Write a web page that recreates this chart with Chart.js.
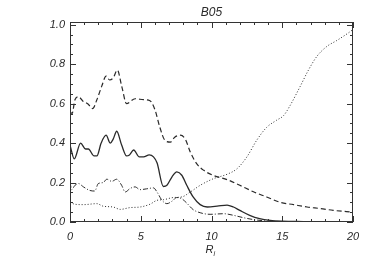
<!DOCTYPE html>
<html>
<head>
<meta charset="utf-8">
<script src="https://cdn.jsdelivr.net/npm/chart.js@4/dist/chart.umd.min.js"></script>
<style>
  html, body { margin: 0; padding: 0; background: #fff; }
  #wrap { width: 374px; height: 267px; position: relative; }
</style>
</head>
<body>
<div id="wrap"><canvas id="chart"></canvas></div>
<script>
const chartTitle = 'B05';
const xTitle = 'R';
const xTitleSub = 'i';

// x positions (R) and values, one pair of arrays per curve
const solidX = [0, 0.3, 0.75, 1.1, 1.3, 1.7, 1.9, 2.2, 2.55, 2.85, 3.05, 3.3, 3.65, 4.0, 4.2, 4.5, 4.9, 5.2, 5.6, 5.9, 6.15, 6.6, 6.85, 7.2, 7.55, 7.9, 8.25, 8.7, 9.2, 9.7, 10.4, 11.1, 11.55, 12.0, 12.7, 13.4, 14.15, 15.0, 16.5, 18.0, 20.0];
const solidY = [0.39, 0.32, 0.40, 0.37, 0.37, 0.335, 0.335, 0.40, 0.44, 0.40, 0.42, 0.46, 0.39, 0.335, 0.34, 0.365, 0.33, 0.33, 0.34, 0.33, 0.30, 0.18, 0.186, 0.228, 0.254, 0.237, 0.186, 0.127, 0.088, 0.076, 0.08, 0.086, 0.076, 0.059, 0.034, 0.017, 0.008, 0.004, 0.002, 0.0, 0.0];

const dashX = [0, 0.15, 0.35, 0.6, 0.95, 1.25, 1.6, 1.9, 2.25, 2.55, 2.8, 3.05, 3.35, 3.65, 4.0, 4.6, 5.2, 5.65, 6.0, 6.35, 6.7, 7.1, 7.4, 7.8, 8.15, 8.5, 8.95, 9.45, 10.1, 11.1, 12.0, 13.0, 13.9, 14.85, 15.8, 16.75, 17.7, 18.6, 20.0];
const dashY = [0.56, 0.55, 0.62, 0.635, 0.61, 0.60, 0.575, 0.62, 0.69, 0.74, 0.72, 0.73, 0.77, 0.69, 0.60, 0.625, 0.62, 0.615, 0.57, 0.48, 0.415, 0.405, 0.43, 0.44, 0.42, 0.355, 0.296, 0.262, 0.237, 0.215, 0.186, 0.152, 0.127, 0.10, 0.088, 0.076, 0.068, 0.059, 0.05];

const dashDotX = [0, 0.12, 0.35, 0.6, 0.95, 1.4, 1.75, 2.0, 2.35, 2.6, 2.95, 3.3, 3.65, 3.9, 4.25, 4.6, 4.95, 5.4, 5.9, 6.15, 6.5, 6.85, 7.2, 7.55, 7.9, 8.25, 8.7, 9.2, 9.9, 10.85, 11.55, 12.25, 13.0, 13.9, 15.1, 17.0, 20.0];
const dashDotY = [0.20, 0.164, 0.186, 0.195, 0.178, 0.16, 0.157, 0.195, 0.20, 0.217, 0.206, 0.217, 0.186, 0.152, 0.17, 0.178, 0.164, 0.168, 0.173, 0.152, 0.11, 0.093, 0.105, 0.124, 0.118, 0.096, 0.063, 0.047, 0.039, 0.042, 0.034, 0.022, 0.012, 0.005, 0.002, 0.0, 0.0];

const dotX = [0, 0.35, 0.95, 1.9, 2.35, 3.05, 3.55, 4.25, 4.95, 5.65, 6.15, 6.6, 7.3, 7.9, 8.5, 9.2, 10.15, 11.1, 11.8, 12.5, 13.2, 13.9, 14.6, 15.1, 15.55, 16.25, 16.85, 17.45, 18.15, 18.85, 19.6, 20.0];
const dotY = [0.10, 0.09, 0.088, 0.093, 0.08, 0.076, 0.064, 0.073, 0.076, 0.09, 0.11, 0.113, 0.124, 0.127, 0.152, 0.186, 0.22, 0.242, 0.27, 0.33, 0.415, 0.48, 0.516, 0.54, 0.59, 0.685, 0.77, 0.84, 0.89, 0.92, 0.955, 0.976];

const xTicks = [0, 5, 10, 15, 20];
const yTicks = [0, 0.2, 0.4, 0.6, 0.8, 1.0];

const ink = '#2a2a2a';
const labelFont = { family: 'Liberation Sans, Arial, sans-serif', size: 11, style: 'italic' };

function pts(xs, ys) {
  return xs.map((x, i) => ({ x: x, y: ys[i] }));
}

function line(data, dash, width) {
  return {
    data: data,
    borderColor: ink,
    borderWidth: width,
    borderDash: dash,
    pointRadius: 0,
    tension: 0.35,
    cubicInterpolationMode: 'monotone',
    fill: false,
  };
}

// IDL style frame: box with inward major/minor ticks on all four sides, plus titles
const framePlugin = {
  id: 'frame',
  afterDraw(chart) {
    const { ctx, chartArea: a, scales } = chart;
    const xs = scales.x, ys = scales.y;
    ctx.save();
    ctx.strokeStyle = '#333';
    ctx.lineWidth = 1;
    ctx.strokeRect(a.left + 0.5, a.top + 0.5, a.right - a.left - 1, a.bottom - a.top - 1);
    ctx.beginPath();
    for (let v = 0; v <= 20.001; v += 1) {
      const px = Math.round(xs.getPixelForValue(v)) + 0.5;
      const len = v % 5 === 0 ? 6 : 3;
      ctx.moveTo(px, a.bottom); ctx.lineTo(px, a.bottom - len);
      ctx.moveTo(px, a.top); ctx.lineTo(px, a.top + len);
    }
    for (let i = 0; i <= 20; i++) {
      const v = i * 0.05;
      const py = Math.round(ys.getPixelForValue(v)) + 0.5;
      const len = i % 4 === 0 ? 6 : 3;
      ctx.moveTo(a.left, py); ctx.lineTo(a.left + len, py);
      ctx.moveTo(a.right, py); ctx.lineTo(a.right - len, py);
    }
    ctx.stroke();

    ctx.fillStyle = ink;
    ctx.textBaseline = 'alphabetic';
    ctx.textAlign = 'center';
    ctx.font = 'italic 12px Liberation Sans, Arial, sans-serif';
    ctx.fillText(chartTitle, (a.left + a.right) / 2, 16);

    ctx.font = 'italic 11px Liberation Sans, Arial, sans-serif';
    const cx = (a.left + a.right) / 2 - 2;
    ctx.textAlign = 'center';
    ctx.fillText(xTitle, cx, 253);
    ctx.font = 'italic 7px Liberation Sans, Arial, sans-serif';
    ctx.textAlign = 'left';
    ctx.fillText(xTitleSub, cx + 4, 256);
    ctx.restore();
  }
};

new Chart(document.getElementById('chart'), {
  type: 'line',
  data: {
    datasets: [
      line(pts(dotX, dotY), [1, 2], 1),
      line(pts(dashDotX, dashDotY), [5, 2, 1, 2], 1),
      line(pts(dashX, dashY), [5, 3], 1.2),
      line(pts(solidX, solidY), [], 1.3),
    ]
  },
  options: {
    responsive: true,
    maintainAspectRatio: false,
    animation: false,
    layout: { padding: { top: 22, right: 21, left: 0, bottom: 0 } },
    plugins: {
      legend: { display: false },
      title: { display: false },
      tooltip: { enabled: false }
    },
    scales: {
      x: {
        type: 'linear',
        min: 0,
        max: 20,
        border: { display: false },
        grid: { display: false, tickLength: 0 },
        afterBuildTicks(scale) { scale.ticks = xTicks.map(v => ({ value: v })); },
        afterFit(scale) { scale.height = 45; },
        ticks: { color: ink, font: labelFont, padding: 8, maxRotation: 0, callback: v => String(v) }
      },
      y: {
        min: 0,
        max: 1.014,
        border: { display: false },
        grid: { display: false, tickLength: 0 },
        afterBuildTicks(scale) { scale.ticks = yTicks.map(v => ({ value: v })); },
        afterFit(scale) { scale.width = 70; },
        ticks: { color: ink, font: labelFont, padding: 5, callback: v => v.toFixed(1) }
      }
    }
  },
  plugins: [framePlugin]
});
</script>
</body>
</html>
